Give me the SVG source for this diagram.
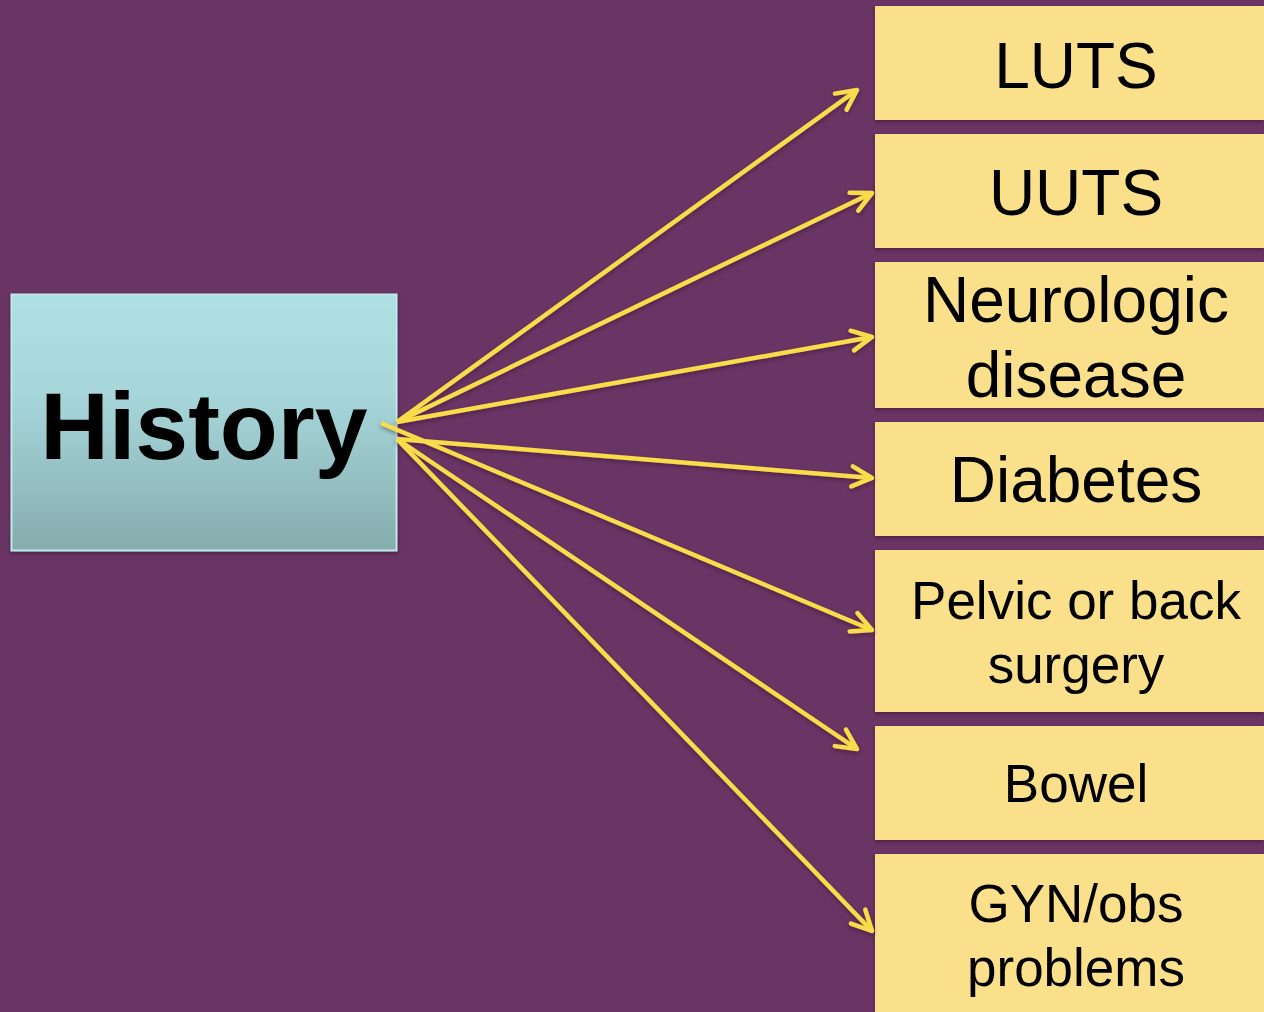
<svg xmlns="http://www.w3.org/2000/svg" width="1264" height="1012" viewBox="0 0 1264 1012">
  <defs>
    <style>
      .item { fill: #fbe08b; }
      .label { font-family: "Liberation Sans", Arial, sans-serif; fill: #000; text-anchor: middle; }
      .big { font-size: 64px; }
      .mid { font-size: 53px; }
      .link { stroke: #f8dc4a; stroke-width: 4.5; fill: none; marker-end: url(#head); }
    </style>
    <linearGradient id="histFill" x1="0" y1="0" x2="0" y2="1">
      <stop offset="0" stop-color="#afe1e4"/>
      <stop offset="0.4" stop-color="#a6d6da"/>
      <stop offset="1" stop-color="#86acad"/>
    </linearGradient>
    <filter id="soft" x="-5%" y="-5%" width="110%" height="110%">
      <feDropShadow dx="0" dy="2" stdDeviation="2" flood-color="#2a0f28" flood-opacity="0.45"/>
    </filter>
    <marker id="head" markerUnits="userSpaceOnUse" viewBox="-24 -13 28 26" refX="0" refY="0" markerWidth="28" markerHeight="26" orient="auto">
      <path d="M-20,-10 L0,0 L-20,10" fill="none" stroke="#f8dc4a" stroke-width="4.5" stroke-linecap="round" stroke-linejoin="round"/>
    </marker>
  </defs>

  <rect x="0" y="0" width="1264" height="1012" fill="#6a3565"/>

  <!-- central node -->
  <g id="history" filter="url(#soft)">
    <rect x="11.5" y="294.5" width="385" height="256" fill="url(#histFill)" stroke="#bfe6ea" stroke-width="2"/>
    <text class="label" x="204" y="459" font-size="95" font-weight="bold">History</text>
  </g>

  <!-- right-hand items -->
  <g id="luts" filter="url(#soft)">
    <rect class="item" x="875" y="6" width="389" height="114"/>
    <text class="label big" x="1076" y="88">LUTS</text>
  </g>
  <g id="uuts" filter="url(#soft)">
    <rect class="item" x="875" y="134" width="389" height="114"/>
    <text class="label big" x="1076" y="215">UUTS</text>
  </g>
  <g id="neurologic" filter="url(#soft)">
    <rect class="item" x="875" y="262" width="389" height="146"/>
    <text class="label big" x="1076" y="322">Neurologic</text>
    <text class="label big" x="1076" y="397">disease</text>
  </g>
  <g id="diabetes" filter="url(#soft)">
    <rect class="item" x="875" y="422" width="389" height="114"/>
    <text class="label big" x="1076" y="502">Diabetes</text>
  </g>
  <g id="surgery" filter="url(#soft)">
    <rect class="item" x="875" y="550" width="389" height="162"/>
    <text class="label mid" x="1076" y="619">Pelvic or back</text>
    <text class="label mid" x="1076" y="683">surgery</text>
  </g>
  <g id="bowel" filter="url(#soft)">
    <rect class="item" x="875" y="726" width="389" height="114"/>
    <text class="label mid" x="1076" y="802">Bowel</text>
  </g>
  <g id="gyn" filter="url(#soft)">
    <rect class="item" x="875" y="854" width="389" height="170"/>
    <text class="label mid" x="1076" y="922">GYN/obs</text>
    <text class="label mid" x="1076" y="986">problems</text>
  </g>

  <!-- connectors -->
  <g id="connectors" filter="url(#soft)">
    <line class="link" x1="397" y1="422" x2="857" y2="90"/>
    <line class="link" x1="397" y1="422" x2="872" y2="193"/>
    <line class="link" x1="397" y1="422" x2="872" y2="337"/>
    <line class="link" x1="397" y1="439" x2="872" y2="478"/>
    <line class="link" x1="381" y1="423" x2="872" y2="630"/>
    <line class="link" x1="397" y1="439" x2="857" y2="749"/>
    <line class="link" x1="397" y1="439" x2="872" y2="931"/>
  </g>
</svg>
